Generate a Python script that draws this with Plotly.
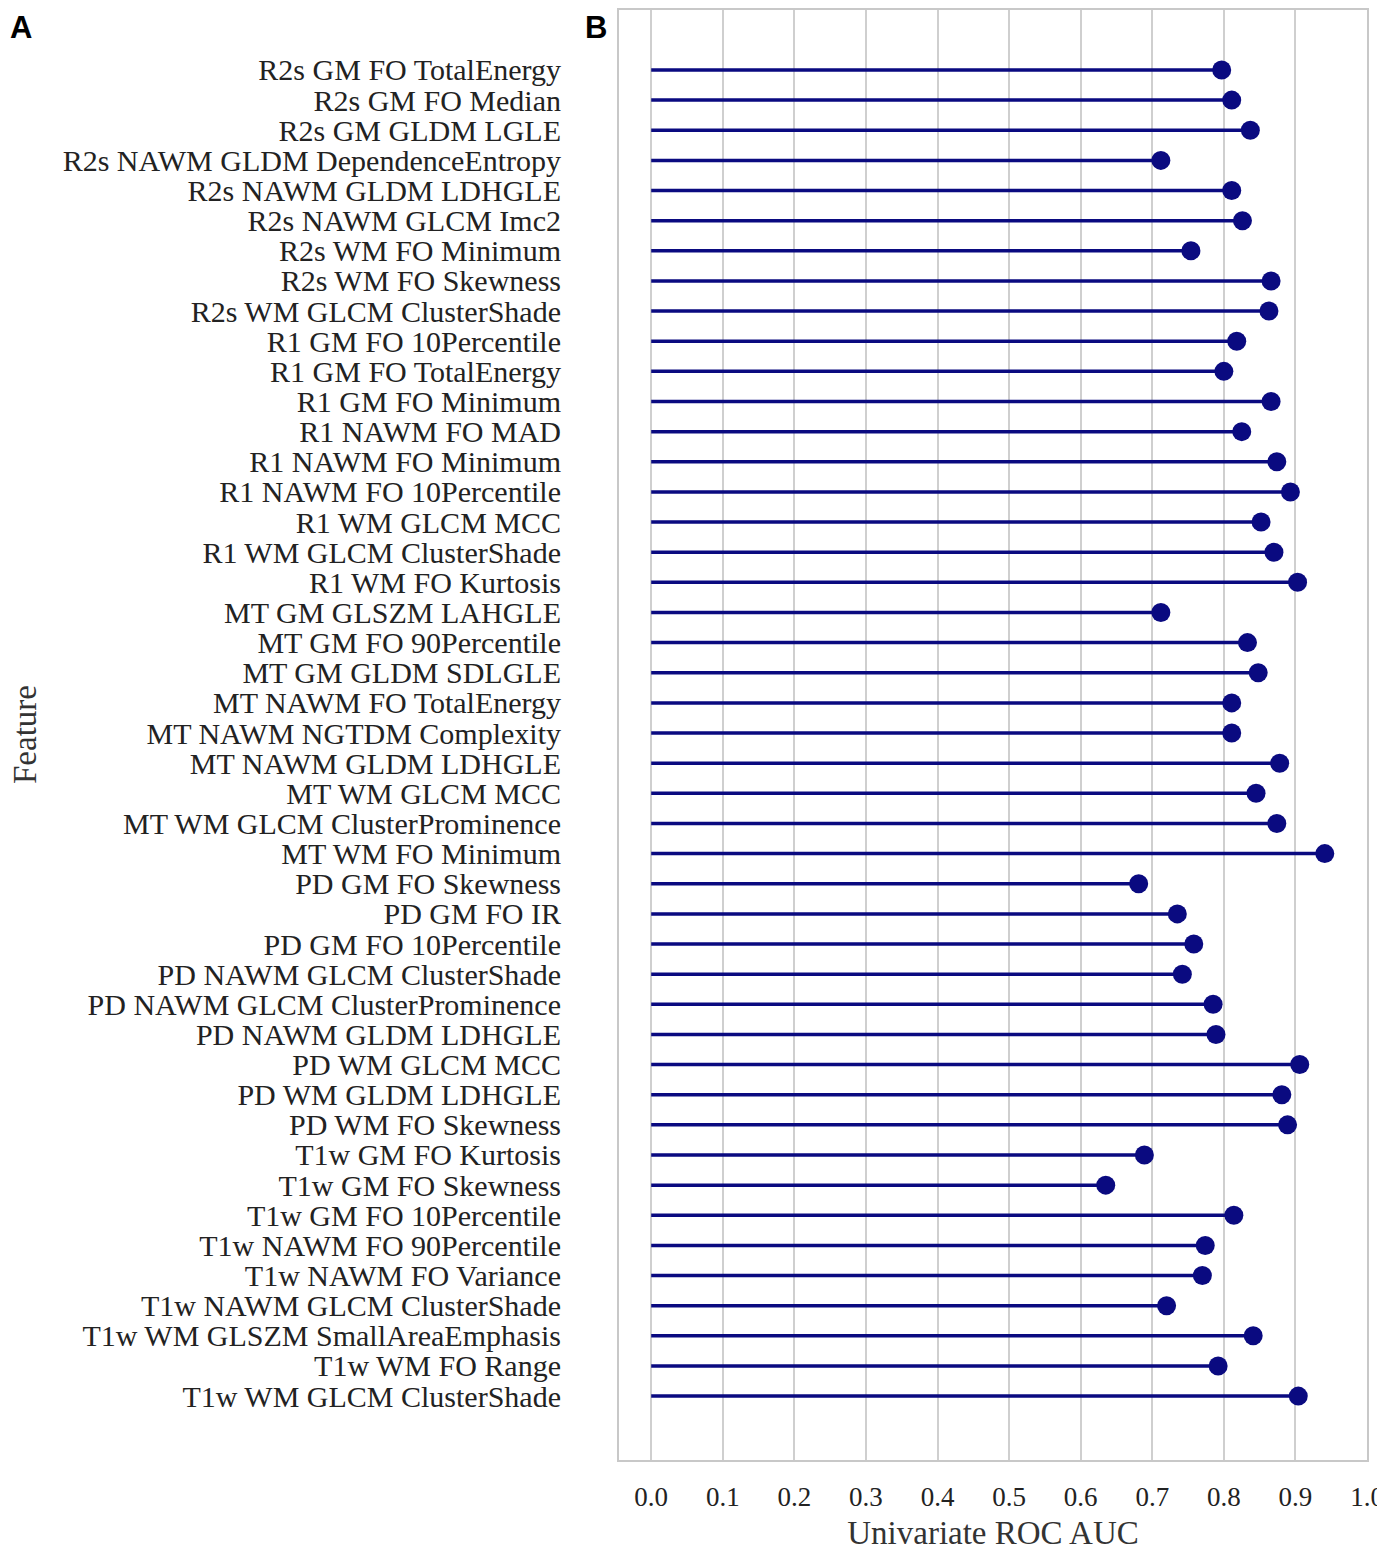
import plotly.graph_objects as go

# -------------------------------------------------------------------
# DATA
# -------------------------------------------------------------------
features = [
    "R2s GM FO TotalEnergy", "R2s GM FO Median", "R2s GM GLDM LGLE",
    "R2s NAWM GLDM DependenceEntropy", "R2s NAWM GLDM LDHGLE", "R2s NAWM GLCM Imc2",
    "R2s WM FO Minimum", "R2s WM FO Skewness", "R2s WM GLCM ClusterShade",
    "R1 GM FO 10Percentile", "R1 GM FO TotalEnergy", "R1 GM FO Minimum",
    "R1 NAWM FO MAD", "R1 NAWM FO Minimum", "R1 NAWM FO 10Percentile",
    "R1 WM GLCM MCC", "R1 WM GLCM ClusterShade", "R1 WM FO Kurtosis",
    "MT GM GLSZM LAHGLE", "MT GM FO 90Percentile", "MT GM GLDM SDLGLE",
    "MT NAWM FO TotalEnergy", "MT NAWM NGTDM Complexity", "MT NAWM GLDM LDHGLE",
    "MT WM GLCM MCC", "MT WM GLCM ClusterProminence", "MT WM FO Minimum",
    "PD GM FO Skewness", "PD GM FO IR", "PD GM FO 10Percentile",
    "PD NAWM GLCM ClusterShade", "PD NAWM GLCM ClusterProminence", "PD NAWM GLDM LDHGLE",
    "PD WM GLCM MCC", "PD WM GLDM LDHGLE", "PD WM FO Skewness",
    "T1w GM FO Kurtosis", "T1w GM FO Skewness", "T1w GM FO 10Percentile",
    "T1w NAWM FO 90Percentile", "T1w NAWM FO Variance", "T1w NAWM GLCM ClusterShade",
    "T1w WM GLSZM SmallAreaEmphasis", "T1w WM FO Range", "T1w WM GLCM ClusterShade",
]

auc = [
    0.797, 0.811, 0.837,
    0.712, 0.811, 0.826,
    0.754, 0.866, 0.863,
    0.818, 0.800, 0.866,
    0.825, 0.874, 0.893,
    0.852, 0.870, 0.903,
    0.712, 0.833, 0.848,
    0.811, 0.811, 0.878,
    0.845, 0.874, 0.941,
    0.681, 0.735, 0.758,
    0.742, 0.785, 0.789,
    0.906, 0.881, 0.889,
    0.689, 0.635, 0.814,
    0.774, 0.770, 0.720,
    0.841, 0.792, 0.904,
]

x_ticks = [0.0, 0.1, 0.2, 0.3, 0.4, 0.5, 0.6, 0.7, 0.8, 0.9, 1.0]

NAVY = "#0a0a80"
SERIF = "Liberation Serif, Times New Roman, serif"
SANS = "Liberation Sans, Arial, sans-serif"

# stems: baseline 0 -> value, separated with None
stem_x, stem_y = [], []
for f, v in zip(features, auc):
    stem_x += [0, v, None]
    stem_y += [f, f, None]

fig = go.Figure()

fig.add_trace(go.Scatter(
    x=stem_x, y=stem_y, mode="lines",
    line=dict(color=NAVY, width=3.5),
    hoverinfo="skip", showlegend=False,
))

fig.add_trace(go.Scatter(
    x=auc, y=features, mode="markers",
    marker=dict(color=NAVY, size=19),
    showlegend=False,
))

n = len(features)
PW, PH = 748, 1450  # plot area in px

# page body has an 8px margin, so the figure is sized/shifted to compensate
fig.update_layout(
    width=1377, height=1543,
    margin=dict(l=611, r=18, t=2, b=91),
    plot_bgcolor="white", paper_bgcolor="white",
    font=dict(family=SERIF, color="#222222"),
    xaxis=dict(
        range=[-0.045, 1.0],
        tickvals=x_ticks,
        ticktext=[f"{t:.1f}" for t in x_ticks],
        tickfont=dict(size=27, family=SERIF, color="#222222"),
        ticklabelstandoff=12,
        showgrid=True, gridcolor="#cfcfcf", gridwidth=1.5,
        zeroline=False, automargin=False,
        showline=True, linecolor="#c8c8c8", linewidth=2, mirror=True,
        title=dict(text="Univariate ROC AUC", font=dict(size=33, family=SERIF, color="#333333"), standoff=10),
    ),
    yaxis=dict(
        type="category",
        categoryorder="array", categoryarray=features,
        tickmode="array", tickvals=features, ticktext=features,
        range=[n - 1 + 2.12, -1.99],
        tickfont=dict(size=30, family=SERIF, color="#222222"),
        ticklabelstandoff=50,
        showgrid=False, zeroline=False, automargin=False,
        showline=True, linecolor="#c8c8c8", linewidth=2, mirror=True,
    ),
    annotations=[
        dict(text="Feature", xref="paper", yref="paper", x=-594 / PW, y=0.5,
             xanchor="center", yanchor="middle", textangle=-90, showarrow=False,
             font=dict(family=SERIF, size=33, color="#333333")),
        dict(text="<b>A</b>", xref="paper", yref="paper", x=-611 / PW, y=1 + 2 / PH,
             xanchor="left", yanchor="top", showarrow=False,
             font=dict(family=SANS, size=31, color="black")),
        dict(text="<b>B</b>", xref="paper", yref="paper", x=-36 / PW, y=1 + 2 / PH,
             xanchor="left", yanchor="top", showarrow=False,
             font=dict(family=SANS, size=31, color="black")),
    ],
)

fig.write_html("out.html")
